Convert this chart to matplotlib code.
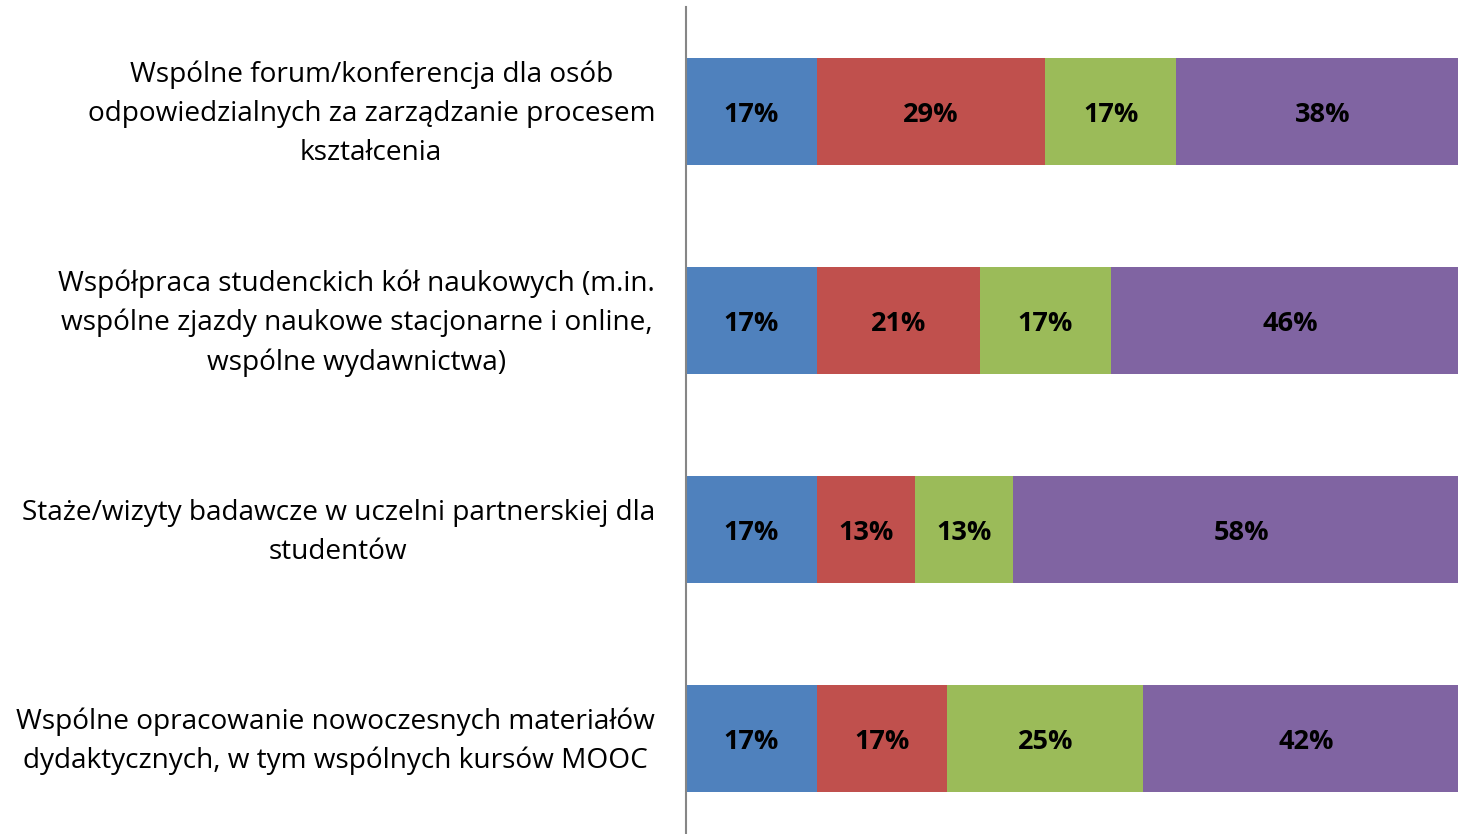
import matplotlib
matplotlib.use('Agg')
import matplotlib.pyplot as plt
from matplotlib.transforms import ScaledTranslation
import numpy as np

plt.rcParams['font.family'] = ['Open Sans', 'DejaVu Sans']

categories = [
    'Wspólne forum/konferencja dla osób\nodpowiedzialnych za zarządzanie procesem\nkształcenia',
    'Współpraca studenckich kół naukowych (m.in.\nwspólne zjazdy naukowe stacjonarne i online,\nwspólne wydawnictwa)',
    'Staże/wizyty badawcze w uczelni partnerskiej dla\nstudentów',
    'Wspólne opracowanie nowoczesnych materiałów\ndydaktycznych, w tym wspólnych kursów MOOC',
]
s1 = [16.67, 16.67, 16.67, 16.67]
s2 = [29.17, 20.83, 12.5, 16.67]
s3 = [16.67, 16.67, 12.5, 25.0]
s4 = [37.5, 45.83, 58.33, 41.67]
series = [s1, s2, s3, s4]
colors = ['#4F81BD', '#C0504D', '#9BBB59', '#8064A2']

fig = plt.figure(figsize=(14.58, 8.34), dpi=100)
# the plot area runs a little past the right edge of the picture (cropped)
ax = fig.add_axes([686 / 1458, 0.0, 784 / 1458, 1 - 7 / 834])

y = np.arange(len(categories))
left = np.zeros(len(categories))
for vals, c in zip(series, colors):
    vals = np.array(vals)
    ax.barh(y, vals, left=left, height=0.512, color=c, edgecolor='none')
    for yi, l, v in zip(y, left, vals):
        ax.annotate(f'{np.floor(v + 0.5):.0f}%', (l + v / 2, yi), xytext=(0, -2.4),
                    textcoords='offset points', ha='center', va='center',
                    fontsize=19.5, fontweight='bold', color='black')
    left = left + vals

ax.set_xlim(0, 100)
ax.set_ylim(3.456, -0.5)

# category labels: right-aligned block, centred lines
lab_tr = ax.get_yaxis_transform() + ScaledTranslation(-31 / 100, -2.5 / 100, fig.dpi_scale_trans)
for yi, lab in zip(y, categories):
    ax.text(0, yi, lab, transform=lab_tr, ha='right', va='center', multialignment='center',
            fontsize=20.2, linespacing=1.52, clip_on=False)

ax.set_yticks([])
ax.set_xticks([])
for s in ['top', 'right', 'bottom']:
    ax.spines[s].set_visible(False)
ax.spines['left'].set_color('#868686')
ax.spines['left'].set_linewidth(1.5)

fig.savefig('out.png', dpi=100)
